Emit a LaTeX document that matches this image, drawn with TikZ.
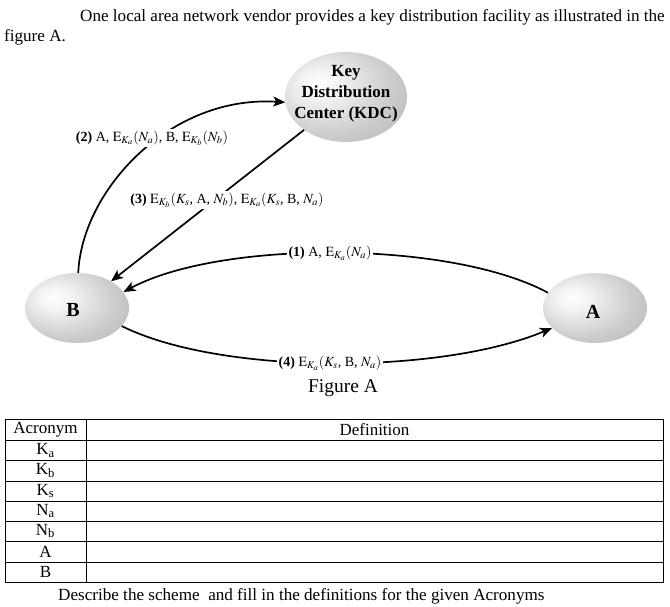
\documentclass[tikz,border=0pt]{standalone}
\usepackage{mathptmx}
\usepackage{fontspec}
\setmainfont{Liberation Serif}
\usetikzlibrary{shapes.geometric,arrows.meta}
\pgfdeclareradialshading{orb}{\pgfpoint{-12bp}{8bp}}{color(0bp)=(white); color(7bp)=(white!96!black); color(26bp)=(black!20); color(44bp)=(black!30); color(54bp)=(black!42); color(70bp)=(black!48)}
\begin{document}
\begin{tikzpicture}[x=1pt,y=-1pt,
  orbnode/.style={ellipse, shading=orb, inner sep=0pt, draw=none},
  nodetext/.style={inner sep=0pt, font=\fontsize{20}{22}\selectfont\bfseries},
  lbl/.style={fill=white, inner sep=2pt, font=\fontsize{14}{16}\selectfont},
  arr/.style={line width=1.7pt, -{Stealth[length=12pt,width=10pt,inset=3pt]}},
  tbl/.style={line width=0.9pt},
  body/.style={inner sep=0pt, font=\fontsize{17.1}{19}\selectfont},
  celltext/.style={inner sep=0pt, font=\fontsize{17}{19}\selectfont}]
\useasboundingbox (0,0) rectangle (670,607);
\fill[white] (0,0) rectangle (670,607);

% top text
\node[body, anchor=base west] (t1) at (80,22) {One local area network vendor provides a key distribution facility as illustrated in the};
\node[body, anchor=base west] (t2) at (4,42) {figure A.};

% nodes
\node[orbnode, minimum width=122pt, minimum height=90pt] (kdc) at (346,97) {};
\node[inner sep=0pt, align=center, font=\fontsize{17}{21}\selectfont\bfseries] (kdctext) at (346,94) {Key\\Distribution\\Center (KDC)};
\node[orbnode, minimum width=104pt, minimum height=70pt] (B) at (77,308) {};
\node[nodetext] (Btext) at (73,310) {B};
\node[orbnode, minimum width=104pt, minimum height=70pt] (A) at (595,308) {};
\node[nodetext] (Atext) at (593,312) {A};

% connectors
\draw[arr] (B.88) .. controls (82,190) and (170,95) .. (kdc.185);
\draw[arr] (kdc) -- (B);
\draw[arr] (A.162) .. controls (450,240) and (220,240) .. (B.19);
\draw[arr] (B.338) .. controls (220,375) and (440,375) .. (A.205);

% labels
\node[lbl] (l2) at (152,138) {\textbf{(2)} A, $\mathrm{E}_{K_a}(N_a)$, B, $\mathrm{E}_{K_b}(N_b)$};
\node[lbl] (l3) at (227,200) {\textbf{(3)} $\mathrm{E}_{K_b}(K_s$, A, $N_b)$, $\mathrm{E}_{K_a}(K_s$, B, $N_a)$};
\node[lbl] (l1) at (330,253) {\textbf{(1)} A, $\mathrm{E}_{K_a}(N_a)$};
\node[lbl] (l4) at (330,363) {\textbf{(4)} $\mathrm{E}_{K_a}(K_s$, B, $N_a)$};

\node[inner sep=0pt, font=\fontsize{19.5}{21}\selectfont] (cap) at (343,388) {Figure A};

% table
\draw[tbl] (5,419) rectangle (663,582);
\draw[tbl] (86,419) -- (86,582);
\foreach \yy in {440,460,481,501,521,541,562} {\draw[tbl] (5,\yy) -- (663,\yy);}
\node[celltext] (h1) at (45.5,430) {Acronym};
\node[celltext] (h2) at (374.5,430) {Definition};
\node[celltext] (r1) at (45.5,450.5) {K\textsubscript{a}};
\node[celltext] (r2) at (45.5,470.5) {K\textsubscript{b}};
\node[celltext] (r3) at (45.5,491) {K\textsubscript{s}};
\node[celltext] (r4) at (45.5,511) {N\textsubscript{a}};
\node[celltext] (r5) at (45.5,531) {N\textsubscript{b}};
\node[celltext] (r6) at (45.5,551.5) {A};
\node[celltext] (r7) at (45.5,572) {B};

\node[body, anchor=base west] (t3) at (58,600) {Describe the scheme\ \ and fill in the definitions for the given Acronyms};
\end{tikzpicture}
\end{document}
